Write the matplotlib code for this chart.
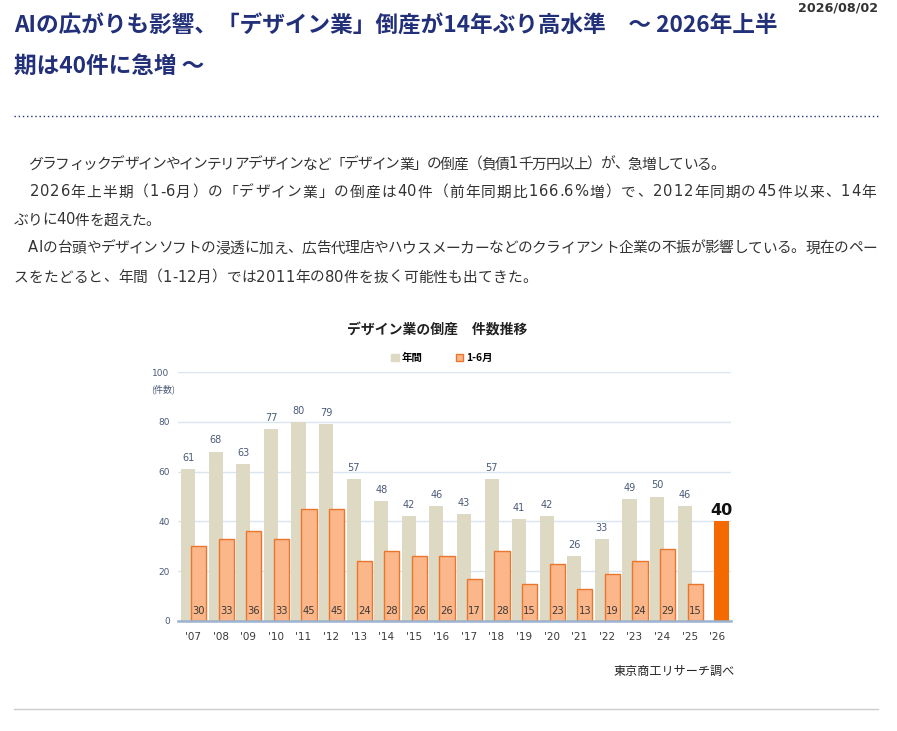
import matplotlib
matplotlib.use("Agg")
import matplotlib.pyplot as plt
from matplotlib.lines import Line2D
from matplotlib.patches import Patch
from matplotlib import font_manager as fm
from matplotlib.ft2font import FT2Font
import numpy as np

plt.rcParams['font.family'] = ['Noto Sans CJK JP', 'DejaVu Sans']
MIX = ['DejaVu Sans', 'Noto Sans CJK JP']

# data
years = ["'07", "'08", "'09", "'10", "'11", "'12", "'13", "'14", "'15", "'16",
         "'17", "'18", "'19", "'20", "'21", "'22", "'23", "'24", "'25", "'26"]
annual = [61, 68, 63, 77, 80, 79, 57, 48, 42, 46, 43, 57, 41, 42, 26, 33, 49, 50, 46]
half = [30, 33, 36, 33, 45, 45, 24, 28, 26, 26, 17, 28, 15, 23, 13, 19, 24, 29, 15, 40]
yticks = [0, 20, 40, 60, 80, 100]

title1 = "AIの広がりも影響、「デザイン業」倒産が14年ぶり高水準　～ 2026年上半"
title2 = "期は40件に急増 ～"
date = "2026/08/02"
body = [
    "　グラフィックデザインやインテリアデザインなど「デザイン業」の倒産（負債1千万円以上）が、急増している。",
    "　2026年上半期（1-6月）の「デザイン業」の倒産は40件（前年同期比166.6%増）で、2012年同期の45件以来、14年",
    "ぶりに40件を超えた。",
    "　AIの台頭やデザインソフトの浸透に加え、広告代理店やハウスメーカーなどのクライアント企業の不振が影響している。現在のペー",
    "スをたどると、年間（1-12月）では2011年の80件を抜く可能性も出てきた。",
]
# where each line of the page wraps (px)
body_end = [724, 877, 160, 877, 537]
body_y = [163, 191, 219, 247, 276]

W, H = 897, 731
fig = plt.figure(figsize=(W / 100, H / 100), dpi=100)


def fx(x):
    return x / W


def fy(y):
    return 1 - y / H


# body text: put each character so every line runs to where the page wraps it
BODY_PT = 10.6
em = BODY_PT * 100 / 72
dv = FT2Font(fm.findfont(fm.FontProperties(family='DejaVu Sans')), hinting_factor=1)
dv.set_size(BODY_PT, 100)


def adv(ch):
    if ord(ch) < 128:
        return dv.load_char(ord(ch)).linearHoriAdvance / 65536
    return em


def draw_line(s, y, x0, x1):
    a = np.array([adv(c) for c in s])
    k = (x1 - x0) / a.sum()
    xs = x0 + np.concatenate([[0], np.cumsum(a)[:-1]]) * k
    for c, xx in zip(s, xs):
        if c in ' 　':
            continue
        fam = 'DejaVu Sans' if ord(c) < 128 else 'Noto Sans CJK JP'
        fig.text(fx(xx), fy(y + 5.5), c, fontsize=BODY_PT, color='#333333',
                 family=fam, ha='left', va='baseline')


navy = '#22307a'
# header
fig.text(fx(14), fy(26), title1, fontsize=16.3, fontweight='bold', color=navy, va='center', ha='left')
fig.text(fx(14), fy(66), title2, fontsize=16.3, fontweight='bold', color=navy, va='center', ha='left')
fig.text(fx(878), fy(8), date, fontsize=9.2, fontweight='bold', color='#333333', va='center', ha='right',
         family=MIX)
fig.add_artist(Line2D([fx(14), fx(878)], [fy(116), fy(116)], color=navy, lw=1,
                      linestyle=(0, (1, 2)), transform=fig.transFigure))

for t, y, e in zip(body, body_y, body_end):
    draw_line(t, y, 14, e)

# chart
ax = fig.add_axes([fx(178), fy(621), fx(731) - fx(178), fy(372) - fy(621)])
x = np.arange(len(years))
xa = x[:len(annual)]
ax.bar(xa - 0.18, annual, width=0.51, color='#ddd9c3', zorder=2)
ax.bar(x[:-1] + 0.2, half[:-1], width=0.55, color='#fbb78a', edgecolor='#e9762b',
       linewidth=1, zorder=3)
ax.bar(x[-1] + 0.16, half[-1], width=0.55, color='#f46a00', zorder=3)

for xi, v in zip(xa, annual):
    ax.text(xi - 0.18, v + 2.5, str(v), ha='center', va='bottom', fontsize=7, color='#4a5a78',
            family=MIX)
for xi, v in zip(x[:-1], half[:-1]):
    ax.text(xi + 0.2, 4, str(v), ha='center', va='center', fontsize=7.2, color='#3a3a3a', zorder=4,
            family=MIX)
ax.text(x[-1] + 0.16, half[-1] + 1.5, str(half[-1]), ha='center', va='bottom', fontsize=11.5,
        fontweight='bold', color='#111111', family=MIX)

ax.set_xlim(-0.55, len(years) - 0.5)
ax.set_ylim(0, 100)
ax.set_yticks(yticks)
ax.set_yticklabels([str(v) for v in yticks], fontsize=6.5, color='#4a5a78', family=MIX)
ax.set_xticks(x)
ax.set_xticklabels(years, fontsize=7.5, color='#3a3a3a', family=MIX)
ax.tick_params(length=0, pad=6)
ax.tick_params(axis='x', pad=8)
ax.grid(axis='y', color='#dbe5f0', lw=1, zorder=0)
for s in ['top', 'right', 'left']:
    ax.spines[s].set_visible(False)
ax.spines['bottom'].set_color('#9cb2ce')
ax.spines['bottom'].set_linewidth(1.8)
ax.spines['bottom'].set_zorder(5)
ax.set_facecolor('none')

fig.text(fx(151), fy(389), "(件数)", fontsize=6.5, color='#4a5a78', va='center', ha='left')
fig.text(fx(437), fy(330), "デザイン業の倒産　件数推移", fontsize=10, fontweight='bold',
         color='#222222', va='center', ha='center')
handles = [Patch(facecolor='#ddd9c3', edgecolor='#ddd9c3'),
           Patch(facecolor='#fbb78a', edgecolor='#e9762b')]
leg = fig.legend(handles, ['年間', '1-6月'], loc='center', bbox_to_anchor=(fx(442), fy(358)),
                 ncol=2, frameon=False, handlelength=0.7, handleheight=0.7,
                 handletextpad=0.3, columnspacing=3.2, prop={'weight': 'bold', 'size': 7.5})

fig.text(fx(735), fy(671), "東京商工リサーチ調べ", fontsize=8.7, color='#222222', va='center', ha='right')
fig.add_artist(Line2D([fx(14), fx(878)], [fy(709), fy(709)], color='#cccccc', lw=1,
                      transform=fig.transFigure))

fig.savefig('out.png', dpi=100, facecolor='white')
